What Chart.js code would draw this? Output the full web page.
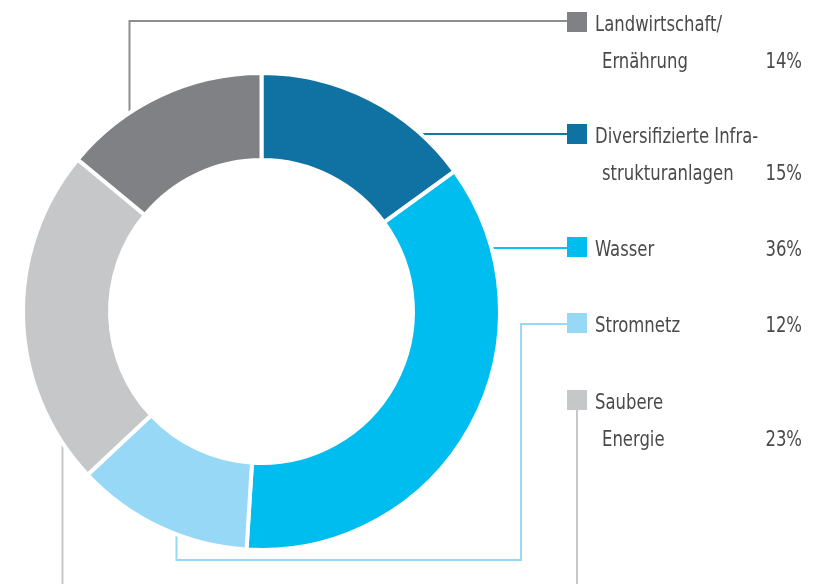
<!DOCTYPE html>
<html>
<head>
<meta charset="utf-8">
<script src="https://cdn.jsdelivr.net/npm/chart.js@4.4.1/dist/chart.umd.min.js"></script>
<style>
html, body { margin: 0; padding: 0; background: #ffffff; }
#wrap { width: 821px; height: 584px; position: relative; }
</style>
</head>
<body>
<div id="wrap"><canvas id="c" width="821" height="584"></canvas></div>
<script>
// ---- data (chart order: clockwise from 12 o'clock) ----
const categories = ['Diversifizierte Infrastrukturanlagen', 'Wasser', 'Stromnetz', 'Saubere Energie', 'Landwirtschaft/Ernährung'];
const values = [15, 36, 12, 23, 14];
const labelLines = [
  ['Diversifizierte Infra-', 'strukturanlagen'],
  ['Wasser'],
  ['Stromnetz'],
  ['Saubere', 'Energie'],
  ['Landwirtschaft/', 'Ernährung']
];
const pctLabels = ['15%', '36%', '12%', '23%', '14%'];

// ---- styles ----
const colors = ['#1072a2', '#00bdf0', '#97d8f6', '#c6c7c9', '#808184'];
const lineColors = ['#1a77a4', '#14c0f0', '#97d8f6', '#c6c7c9', '#8c8d8f'];
const FONT = '"DejaVu Sans", sans-serif';
const TEXT_COLOR = '#4a4a4c';
const legendRowY = [134, 247, 323, 400, 22]; // square centre y, by data index

const connectorPlugin = {
  id: 'connectors',
  beforeDatasetsDraw(chart) {
    const arc = chart.getDatasetMeta(0).data[0];
    const cx = arc.x, cy = arc.y;
    const ctx = chart.ctx;
    const paths = [
      [[[cx + 140, legendRowY[0]], [567, legendRowY[0]]]],
      [[[cx + 215, legendRowY[1] + 1], [567, legendRowY[1] + 1]]],
      [[[567, legendRowY[2] + 1], [521, legendRowY[2] + 1], [521, 560], [cx - 85, 560], [cx - 85, cy + 210]]],
      [[[577, legendRowY[3]], [577, 600]], [[cx - 199, cy + 120], [cx - 199, 600]]],
      [[[cx - 132, cy - 170], [cx - 132, legendRowY[4] - 1], [567, legendRowY[4] - 1]]]
    ];
    ctx.save();
    ctx.lineWidth = 2;
    ctx.lineJoin = 'miter';
    paths.forEach((group, i) => {
      ctx.strokeStyle = lineColors[i];
      group.forEach(p => {
        ctx.beginPath();
        ctx.moveTo(p[0][0], p[0][1]);
        for (let k = 1; k < p.length; k++) ctx.lineTo(p[k][0], p[k][1]);
        ctx.stroke();
      });
    });
    ctx.restore();
  },
  afterDatasetsDraw(chart) {
    const ctx = chart.ctx;
    ctx.save();
    ctx.font = '22px ' + FONT;
    try { ctx.fontStretch = 'condensed'; } catch (e) {}
    ctx.textBaseline = 'alphabetic';
    // condense horizontally so the reference label widths are matched
    const sx = 127 / ctx.measureText('Landwirtschaft/').width;
    categories.forEach((c, i) => {
      const y = legendRowY[i];
      ctx.fillStyle = colors[i];
      ctx.fillRect(567, y - 10, 20, 20);
      ctx.fillStyle = TEXT_COLOR;
      const lines = labelLines[i];
      ctx.save();
      ctx.scale(sx, 1);
      ctx.textAlign = 'left';
      lines.forEach((t, k) => {
        ctx.fillText(t, (k === 0 ? 595 : 602) / sx, y + 9 + k * 37);
      });
      ctx.textAlign = 'right';
      ctx.fillText(pctLabels[i], 802 / sx, y + 9 + (lines.length - 1) * 37);
      ctx.restore();
    });
    ctx.restore();
  }
};

new Chart(document.getElementById('c'), {
  type: 'doughnut',
  data: {
    labels: categories,
    datasets: [{
      data: values,
      backgroundColor: colors,
      hoverBackgroundColor: colors,
      borderColor: '#ffffff',
      hoverBorderColor: '#ffffff',
      borderWidth: 4,
      hoverBorderWidth: 4
    }]
  },
  options: {
    responsive: false,
    animation: false,
    cutout: '63.5%',
    rotation: 0,
    layout: { padding: { left: 21, top: 71, right: 319, bottom: 32 } },
    plugins: {
      legend: { display: false },
      tooltip: { enabled: false }
    },
    events: []
  },
  plugins: [connectorPlugin]
});
</script>
</body>
</html>
